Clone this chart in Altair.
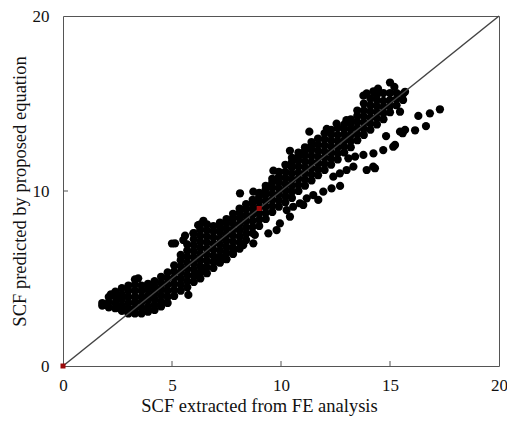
import altair as alt
import pandas as pd

# ---- data ----
# main cloud: (x, [y values]) columns
core_columns = [
    (1.8, [3.45, 3.6]),
    (2.1, [3.35, 3.65, 3.95]),
    (2.4, [3.3, 3.6, 3.95, 4.25]),
    (2.7, [3.15, 3.45, 3.8, 4.1, 4.45]),
    (3.0, [3.0, 3.3, 3.6, 3.95, 4.3, 4.6]),
    (3.3, [3.0, 3.3, 3.65, 3.95, 4.3, 4.65, 4.95]),
    (3.6, [3.0, 3.3, 3.65, 3.95, 4.3, 4.6]),
    (3.9, [3.1, 3.4, 3.75, 4.05, 4.4, 4.7]),
    (4.2, [3.2, 3.5, 3.85, 4.2, 4.55, 4.85]),
    (4.5, [3.4, 3.7, 4.05, 4.4, 4.75, 5.1]),
    (4.8, [3.6, 3.95, 4.3, 4.65, 5.0, 5.35]),
    (5.1, [4.0, 4.35, 4.7, 5.05, 5.4, 5.75]),
    (5.4, [4.3, 4.65, 5.0, 5.35, 5.7, 6.05, 6.35]),
    (5.7, [4.5, 4.85, 5.2, 5.55, 5.9, 6.25, 6.6, 6.95]),
    (6.0, [4.8, 5.15, 5.5, 5.85, 6.2, 6.55, 6.9, 7.25, 7.6]),
    (6.3, [5.0, 5.35, 5.7, 6.05, 6.4, 6.75, 7.1, 7.45, 7.8, 8.1]),
    (6.6, [5.3, 5.65, 6.0, 6.35, 6.7, 7.05, 7.4, 7.75, 8.1]),
    (6.9, [5.6, 5.95, 6.3, 6.65, 7.0, 7.35, 7.7, 8.0]),
    (7.2, [5.9, 6.25, 6.6, 6.95, 7.3, 7.65, 7.95, 8.2]),
    (7.5, [6.1, 6.45, 6.8, 7.15, 7.5, 7.85, 8.15, 8.4]),
    (7.8, [6.4, 6.75, 7.1, 7.45, 7.8, 8.15, 8.45, 8.7]),
    (8.1, [6.7, 7.05, 7.4, 7.75, 8.1, 8.45, 8.75, 9.0]),
    (8.4, [7.2, 7.55, 7.9, 8.25, 8.6, 8.95, 9.25]),
    (8.7, [7.6, 7.95, 8.3, 8.65, 9.0, 9.3, 9.5]),
    (9.0, [8.0, 8.35, 8.7, 9.05, 9.4, 9.7, 9.9]),
    (9.3, [8.4, 8.75, 9.1, 9.45, 9.8, 10.1, 10.3]),
    (9.6, [8.8, 9.15, 9.5, 9.85, 10.2, 10.5, 10.7]),
    (9.9, [9.1, 9.45, 9.8, 10.15, 10.5, 10.8, 11.1]),
    (10.2, [9.35, 9.7, 10.05, 10.4, 10.75, 11.1, 11.5]),
    (10.5, [9.6, 9.95, 10.3, 10.65, 11.0, 11.35, 11.65, 11.9]),
    (10.8, [10.0, 10.35, 10.7, 11.05, 11.4, 11.75, 12.0, 12.2]),
    (11.1, [10.3, 10.65, 11.0, 11.35, 11.7, 12.05, 12.3, 12.5]),
    (11.4, [10.6, 10.95, 11.3, 11.65, 12.0, 12.35, 12.6, 12.8]),
    (11.7, [10.9, 11.25, 11.6, 11.95, 12.3, 12.65, 13.0]),
    (12.0, [11.2, 11.55, 11.9, 12.25, 12.6, 12.95, 13.3]),
    (12.3, [11.5, 11.85, 12.2, 12.55, 12.9, 13.25, 13.5]),
    (12.6, [11.8, 12.15, 12.5, 12.85, 13.2, 13.6]),
    (12.9, [12.2, 12.55, 12.9, 13.25, 13.55, 13.8]),
    (13.2, [12.5, 12.85, 13.2, 13.55, 13.85, 14.1]),
    (13.5, [12.9, 13.25, 13.6, 13.95, 14.3, 14.6]),
    (13.8, [13.2, 13.55, 13.9, 14.25, 14.6, 15.0]),
    (14.1, [13.5, 13.85, 14.2, 14.55, 14.9, 15.3]),
    (14.4, [13.8, 14.15, 14.5, 14.85, 15.2, 15.5]),
    (14.7, [14.1, 14.45, 14.8, 15.15, 15.6]),
    (15.0, [14.5, 14.85, 15.2, 15.6]),
    (15.3, [14.9, 15.25, 15.6]),
    (15.6, [15.2, 15.55]),
]

# scattered points above the diagonal
upper_x = [1.85, 2.2, 3.45, 5.0, 5.14, 5.52, 5.6, 5.98, 6.2, 6.44, 8.12, 8.73,
           9.65, 10.41, 11.3, 12.1, 12.55, 13.0, 13.78, 13.93, 14.24, 14.45,
           15.0, 15.2, 15.69]
upper_y = [3.49, 4.1, 5.01, 7.0, 7.01, 7.2, 7.45, 7.58, 8.05, 8.3, 9.87, 9.96,
           11.16, 12.3, 13.39, 13.55, 13.85, 14.05, 15.45, 15.58, 15.7, 15.85,
           16.2, 15.95, 15.67]

# scattered points below the diagonal (lower branches)
lower_x = [5.75, 6.13, 6.51, 7.12, 7.43, 7.81, 8.27, 8.73, 8.8, 9.42, 9.8,
           9.95, 10.41, 10.26, 10.56, 10.87, 11.02, 11.18, 11.48, 11.71, 11.94,
           12.32, 12.71, 12.4, 12.7, 13.01, 13.32, 13.93, 14.23, 14.31, 13.09,
           13.4, 13.78, 14.24, 14.69, 15.15, 15.23, 14.82, 15.46, 15.58, 15.69,
           16.15, 16.65, 15.46, 16.3, 16.83, 17.29]
lower_y = [4.06, 5.2, 5.39, 5.96, 6.15, 6.63, 6.91, 7.01, 7.49, 7.58, 7.77,
           8.15, 8.53, 8.91, 9.1, 9.3, 9.2, 9.58, 9.77, 9.49, 9.96,
           10.15, 10.29, 10.82, 11.01, 11.2, 11.39, 11.2, 11.39, 11.3, 11.87,
           11.96, 12.06, 12.15, 12.34, 12.53, 12.63, 13.14, 13.39, 13.3, 13.49,
           13.47, 13.71, 14.53, 14.29, 14.44, 14.67]

diag_x = [0, 20]
diag_y = [0, 20]
red_x = [0, 9]
red_y = [0, 9]
x_tick_values = [0, 5, 10, 15, 20]
y_tick_values = [0, 10, 20]
inner_x_ticks = [5, 10, 15]
inner_y_ticks = [10]

# ---- tables ----
px, py = [], []
for cx, ys in core_columns:
    for yv in ys:
        px.append(cx)
        py.append(yv)
px += upper_x + lower_x
py += upper_y + lower_y
points = pd.DataFrame({"x": px, "y": py})
diag = pd.DataFrame({"x": diag_x, "y": diag_y})
red = pd.DataFrame({"x": red_x, "y": red_y})
xt = pd.DataFrame({"x": inner_x_ticks})
yt = pd.DataFrame({"y": inner_y_ticks})

W, H = 436, 350
FONT = "Liberation Serif"

xscale = alt.Scale(domain=[0, 20], nice=False, zero=False)
yscale = alt.Scale(domain=[0, 20], nice=False, zero=False)
xaxis = alt.Axis(values=x_tick_values, ticks=False, tickSize=0, domain=False, grid=False,
                 labelFlush=False, labelOverlap=False,
                 labelFont=FONT, labelFontSize=17, labelColor="#111", labelPadding=11,
                 title="SCF extracted from FE analysis", titleFont=FONT, titleFontSize=18.5,
                 titleFontWeight="normal", titleColor="#111", titleX=196, titleY=45,
                 titleAlign="center", titleBaseline="alphabetic")
yaxis = alt.Axis(values=y_tick_values, ticks=False, tickSize=0, domain=False, grid=False,
                 labelFlush=False, labelOverlap=False,
                 labelFont=FONT, labelFontSize=17, labelColor="#111", labelPadding=14,
                 title="SCF predicted by proposed equation", titleFont=FONT, titleFontSize=18.5,
                 titleFontWeight="normal", titleColor="#111", titleX=-38, titleY=175,
                 titleAngle=270, titleAlign="center", titleBaseline="alphabetic")


def X(field="x"):
    return alt.X(f"{field}:Q", scale=xscale, axis=xaxis)


def Y(field="y"):
    return alt.Y(f"{field}:Q", scale=yscale, axis=yaxis)


pts_layer = alt.Chart(points).mark_circle(size=68, color="black", opacity=1).encode(x=X(), y=Y())
diag_layer = alt.Chart(diag).mark_line(color="#444444", strokeWidth=1.5).encode(x=X(), y=Y())
red_layer = alt.Chart(red).mark_square(size=25, color="#9b0a0a", opacity=1).encode(x=X(), y=Y())
xt_layer = alt.Chart(xt).mark_rule(color="#555555", strokeWidth=1).encode(
    x=X(), y=alt.value(H), y2=alt.value(H - 5))
yt_layer = alt.Chart(yt).mark_rule(color="#555555", strokeWidth=1).encode(
    y=Y(), x=alt.value(0), x2=alt.value(5))

chart = alt.layer(pts_layer, diag_layer, red_layer, xt_layer, yt_layer).properties(
    width=W, height=H,
    autosize=alt.AutoSizeParams(type="none"),
    padding={"left": 63, "top": 16, "right": 8, "bottom": 59},
    background="white",
).configure_view(stroke="#555555", strokeWidth=1)

chart.save("out.html", embed_options={"renderer": "svg", "actions": False})
